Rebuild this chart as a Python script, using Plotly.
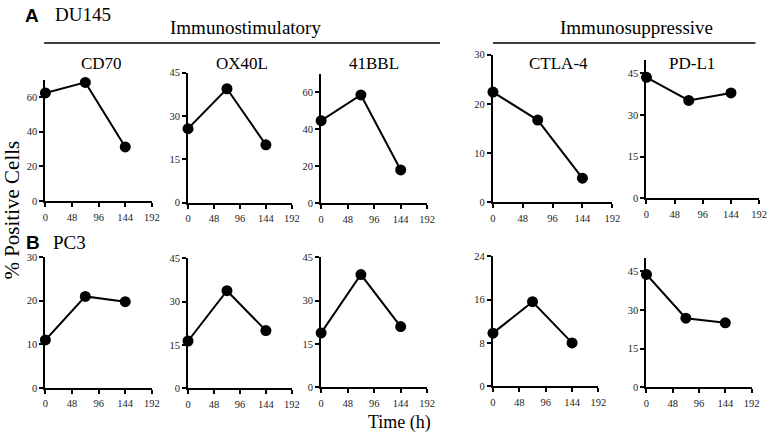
import plotly.graph_objects as go

W, H = 777, 439

# ---------------- data ----------------
time_h = [0, 72, 144]
x_ticks = [0, 48, 96, 144, 192]

panel_titles = ["CD70", "OX40L", "41BBL", "CTLA-4", "PD-L1"]

du145_cd70 = [62.4, 68.5, 31.2]
du145_ox40l = [25.6, 39.4, 20.0]
du145_41bbl = [44.6, 58.6, 17.9]
du145_ctla4 = [22.4, 16.7, 4.9]
du145_pdl1 = [43.6, 35.3, 38.0]

pc3_cd70 = [11.0, 21.0, 19.8]
pc3_ox40l = [16.4, 33.8, 20.0]
pc3_41bbl = [18.8, 39.0, 21.0]
pc3_ctla4 = [9.8, 15.6, 8.0]
pc3_pdl1 = [43.8, 26.8, 25.0]

du145_yticks = [[0, 20, 40, 60], [0, 15, 30, 45], [0, 20, 40, 60], [0, 10, 20, 30], [0, 15, 30, 45]]
du145_ymax = [70, 45, 70, 30, 50]
pc3_yticks = [[0, 10, 20, 30], [0, 15, 30, 45], [0, 15, 30, 45], [0, 8, 16, 24], [0, 15, 30, 45]]
pc3_ymax = [30, 45, 45, 24, 50]

du145_series = [du145_cd70, du145_ox40l, du145_41bbl, du145_ctla4, du145_pdl1]
pc3_series = [pc3_cd70, pc3_ox40l, pc3_41bbl, pc3_ctla4, pc3_pdl1]

# ---------------- layout (pixel boxes) ----------------
# (x0, x1, y_zero, y_top) in pixels
top_boxes = [(43, 151, 201, 76.7), (187.7, 293, 202.7, 69.3), (322.7, 430.3, 203, 70.7),
             (497, 618, 202.3, 51), (652.7, 767, 198.3, 56)]
bot_boxes = [(43, 151, 392.7, 258.7), (187.7, 293, 393.3, 259.8), (322.7, 430.3, 392, 258.7),
             (497, 604, 391, 257.7), (652.7, 759.3, 392, 260)]
title_x = [100, 242, 376.7, 563, 699]

SERIF = "Liberation Serif"
SANS = "Liberation Sans"


def px(x):
    return x / W


def py(y):
    return 1 - y / H


fig = go.Figure()
layout = dict(width=W, height=H, margin=dict(l=0, r=0, t=0, b=0),
              paper_bgcolor="white", plot_bgcolor="white", showlegend=False,
              font=dict(family=SERIF))

panels = []
for i in range(5):
    panels.append((top_boxes[i], du145_series[i], du145_yticks[i], du145_ymax[i]))
for i in range(5):
    panels.append((bot_boxes[i], pc3_series[i], pc3_yticks[i], pc3_ymax[i]))

axis_common = dict(showline=True, linewidth=2, linecolor="black", ticks="outside",
                   ticklen=4, tickwidth=1.5, tickcolor="black", showgrid=False,
                   zeroline=False, tickfont=dict(family=SERIF, size=10.5, color="#222"))

for k, (box, vals, yt, ymax) in enumerate(panels, start=1):
    x0, x1, y0, y1 = box
    sfx = "" if k == 1 else str(k)
    layout["xaxis" + sfx] = dict(domain=[px(x0), px(x1)], range=[0, 192], tickvals=x_ticks,
                                 anchor="y" + sfx, ticklabelstandoff=1, **axis_common)
    layout["yaxis" + sfx] = dict(domain=[py(y0), py(y1)], range=[0, ymax], tickvals=yt,
                                 anchor="x" + sfx, ticklabelstandoff=0, **axis_common)
    fig.add_trace(go.Scatter(x=time_h, y=vals, mode="lines+markers",
                             line=dict(color="black", width=2),
                             marker=dict(color="black", size=11),
                             cliponaxis=False,
                             xaxis="x" + sfx, yaxis="y" + sfx))

annotations = []


def text(x, y, s, size, family=SERIF, xanchor="center", bold=False, angle=0):
    annotations.append(dict(x=px(x), y=py(y), xref="paper", yref="paper", text=(f"<b>{s}</b>" if bold else s),
                            showarrow=False, xanchor=xanchor, yanchor="middle", textangle=angle,
                            font=dict(family=family, size=size, color="black")))


for i, t in enumerate(panel_titles):
    text(title_x[i], 60, t, 17)

text(246, 23, "Immunostimulatory", 19)
text(642.5, 23, "Immunosuppressive", 19)
text(29, 11, "A", 19, family=SANS, bold=True)
text(51, 10, "DU145", 19, xanchor="left")
text(30, 244, "B", 19, family=SANS, bold=True)
text(49, 244, "PC3", 19, xanchor="left")
text(9, 210, "% Positive Cells", 21, angle=-90)
text(402, 428, "Time (h)", 18)

layout["annotations"] = annotations
layout["shapes"] = [
    dict(type="line", xref="paper", yref="paper", x0=px(41.7), x1=px(443.3), y0=py(39), y1=py(39),
         line=dict(color="black", width=1.3)),
    dict(type="line", xref="paper", yref="paper", x0=px(497), x1=px(763.3), y0=py(39), y1=py(39),
         line=dict(color="black", width=1.3)),
]

fig.update_layout(**layout)
fig.write_html("out.html",
               config={"displayModeBar": False},
               post_script="document.body.style.margin='0';document.body.style.overflow='hidden';")
